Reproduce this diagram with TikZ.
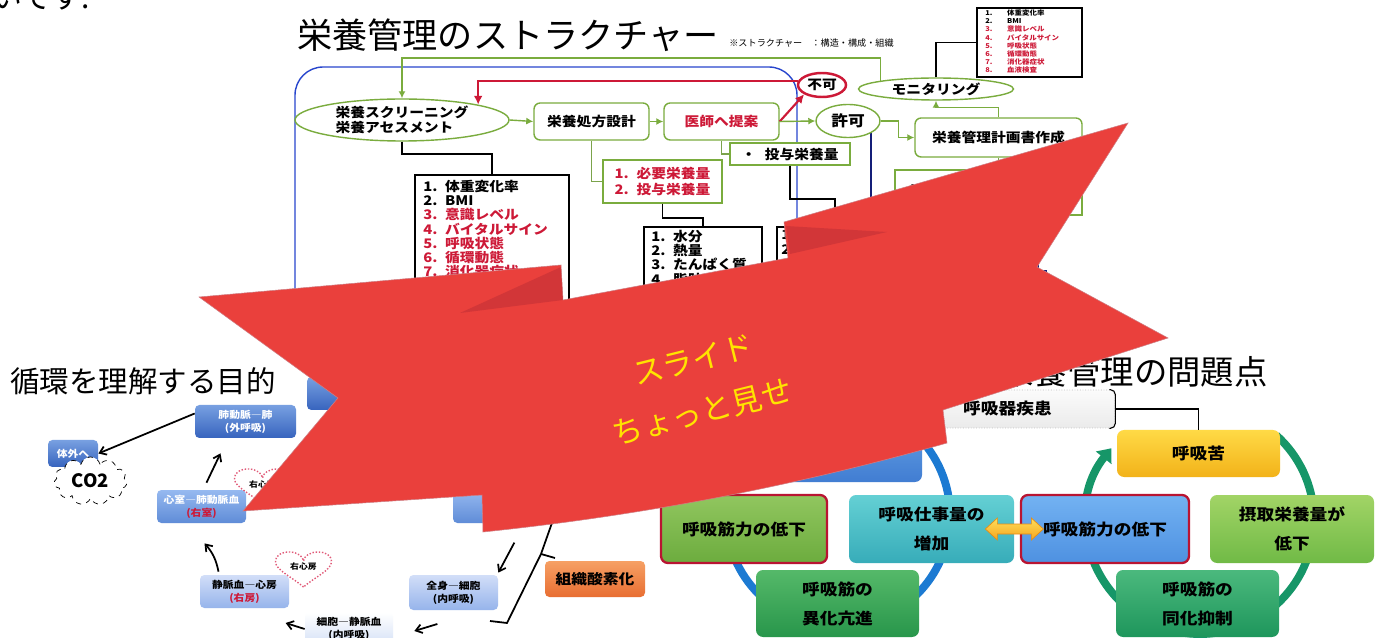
\documentclass[tikz,border=0pt]{standalone}
\usepackage{fontspec}
\setmainfont{Noto Sans CJK JP}
\newfontfamily\wide[FakeStretch=1.12]{Noto Sans CJK JP}
\usetikzlibrary{shapes.geometric,shapes.symbols,arrows.meta,calc}

\definecolor{grn}{RGB}{122,172,62}
\definecolor{txred}{RGB}{205,25,55}
\definecolor{frblue}{RGB}{40,70,205}
\definecolor{navy}{RGB}{20,30,120}
\definecolor{ribbon}{RGB}{234,64,60}
\definecolor{ribbondk}{RGB}{175,40,50}
\definecolor{ribbontx}{RGB}{255,228,0}
\definecolor{ringblue}{RGB}{28,122,210}
\definecolor{ringgreen}{RGB}{22,150,104}
\definecolor{boxred}{RGB}{185,20,50}

\newcommand\lrow[2]{\makebox[12.4pt][l]{#1}#2}

\tikzset{%
  sz/.style 2 args = {minimum width=#1*0.02cm, minimum height=#2*0.02cm},%
  flowbox/.style   = {shape=rectangle, rounded corners=3.5pt, draw=grn, line width=0.8pt,%
                      fill=white, align=center, inner sep=0pt,%
                      font=\wide\bfseries\fontsize{7.5pt}{8.5pt}\selectfont},%
  flowoval/.style  = {flowbox, shape=ellipse, sharp corners},%
  notebox/.style   = {flowbox, sharp corners},%
  listbox/.style   = {shape=rectangle, draw=black, line width=1pt, fill=white, inner sep=0pt},%
  listtext/.style  = {anchor=north west, inner sep=0pt, align=left,%
                      font=\wide\bfseries\fontsize{7.5pt}{8.05pt}\selectfont},%
  garr/.style      = {draw=grn, line width=0.8pt, -{Latex[length=4pt,width=4pt]}},%
  gline/.style     = {draw=grn!80!gray, line width=0.7pt},%
  rarr/.style      = {draw=txred, line width=1.2pt, -{Latex[length=5pt,width=5pt]}},%
  bline/.style     = {draw=black, line width=1.1pt},%
  cell/.style      = {shape=rectangle, rounded corners=2.5pt, inner sep=0pt, align=center,%
                      font=\wide\bfseries\fontsize{5.5pt}{7.4pt}\selectfont},%
  darkcell/.style  = {cell, top color={rgb,255:red,120;green,160;blue,225},%
                      bottom color={rgb,255:red,55;green,100;blue,190}, text=white},%
  midcell/.style   = {cell, top color={rgb,255:red,150;green,185;blue,240},%
                      bottom color={rgb,255:red,95;green,140;blue,215}, text=white},%
  lightcell/.style = {cell, top color={rgb,255:red,210;green,222;blue,248},%
                      bottom color={rgb,255:red,150;green,180;blue,235}},%
  palecell/.style  = {cell, top color=white, bottom color={rgb,255:red,212;green,224;blue,246}},%
  flow/.style      = {-{Straight Barb[length=3.5pt,width=5pt]}, line width=1pt},%
  heartline/.style = {draw={rgb,255:red,225;green,90;blue,120}, densely dotted, line width=0.8pt},%
  hearttext/.style = {inner sep=0pt, font=\wide\bfseries\fontsize{4.5pt}{5pt}\selectfont},%
  cycbox/.style    = {shape=rectangle, rounded corners=4pt, inner sep=0pt, align=center,%
                      font=\wide\bfseries\fontsize{9pt}{16.5pt}\selectfont},%
  heart/.pic       = {\draw[heartline, fill=white] (0,17) .. controls (-10,8) and (-28,0) .. (-28,-8)
                      .. controls (-28,-15) and (-22,-18) .. (-14,-18) .. controls (-6,-18) and (0,-13) .. (0,-9)
                      .. controls (0,-13) and (6,-18) .. (14,-18) .. controls (22,-18) and (28,-15) .. (28,-8)
                      .. controls (28,0) and (10,8) .. cycle;}%
}

\begin{document}
\begin{tikzpicture}[x=0.02cm, y=-0.02cm]
\useasboundingbox (0,0) rectangle (1383,638);
\fill[white] (0,0) rectangle (1383,638);

\node[anchor=base west, inner sep=0pt, font=\fontsize{17pt}{20pt}\selectfont] (lead) at (-8,9) {いです.};
\node[anchor=west, inner sep=0pt, font=\fontsize{20pt}{23pt}\selectfont] (title) at (297,35) {栄養管理のストラクチャー};
\node[anchor=west, inner sep=0pt, font=\fontsize{5.2pt}{6pt}\selectfont] (note) at (729,43) {※ストラクチャー\quad ：構造・構成・組織};

\draw[frblue, line width=0.8pt, rounded corners=16pt] (295,340) -- (295,67) -- (797,67) -- (797,340);
\draw[navy, line width=1.3pt] (871,125) -- (871,300);
\draw[navy, line width=1pt] (1038,250) -- (1038,271) -- (1047,271);

\node[flowoval, sz={214}{42}, align=left] (screen) at (402,120) {栄養スクリーニング\\栄養アセスメント};
\node[flowbox, sz={115}{37}] (sekkei) at (591.5,121.5) {栄養処方設計};
\node[flowbox, sz={115}{37}, text=txred] (teian) at (721.5,121.5) {医師へ提案};
\node[flowoval, sz={64}{33}, font=\wide\bfseries\fontsize{8.5pt}{10pt}\selectfont] (kyoka) at (848,121) {許可};
\node[flowoval, sz={48}{24}, draw=txred, line width=1.4pt] (fuka) at (822,85) {不可};
\node[flowoval, sz={155}{22}] (monitor) at (936,89) {モニタリング};
\node[flowbox, sz={167}{39}] (keikaku) at (998.5,137.5) {栄養管理計画書作成};
\node[notebox, sz={187}{45}] (hokyu) at (988.5,192.5) {};
\node[anchor=west, inner sep=0pt, font=\wide\bfseries\fontsize{7.5pt}{8.5pt}\selectfont] (hokyut) at (905,186) {・\hspace{6pt}栄養};
\node[notebox, sz={119}{43}, align=left, text=txred,
      font=\wide\bfseries\fontsize{7.5pt}{9.6pt}\selectfont] (need) at (662.5,181.5) {\lrow{1.}{必要栄養量}\\\lrow{2.}{投与栄養量}};
\node[notebox, sz={120}{22}] (tou) at (790,154) {・\hspace{5pt}投与栄養量};

\node[listbox, sz={154}{155}] (list1) at (492,252.5) {};
\node[listtext] (list1t) at (423,180) {\lrow{1.}{体重変化率}\\\lrow{2.}{BMI}\\
  \textcolor{txred}{\lrow{3.}{意識レベル}}\\\textcolor{txred}{\lrow{4.}{バイタルサイン}}\\
  \textcolor{txred}{\lrow{5.}{呼吸状態}}\\\textcolor{txred}{\lrow{6.}{循環動態}}\\
  \textcolor{txred}{\lrow{7.}{消化器症状}}};
\node[listbox, sz={118}{103}] (list2) at (703,278.5) {};
\node[listtext] (list2t) at (651,230) {\lrow{1.}{水分}\\\lrow{2.}{熱量}\\\lrow{3.}{たんぱく質}\\\lrow{4.}{脂肪}};
\node[listbox, sz={116}{103}] (list3) at (835,278.5) {};
\node[listtext] (list3t) at (781,230) {1.\\2.};
\node[listbox, line width=1.3pt, sz={105}{69}] (mlist) at (1029.5,42.5) {};
\node[listtext, font=\wide\bfseries\fontsize{3.8pt}{4.65pt}\selectfont] (mlistt) at (985,9.5)
  {\lrow{1.}{体重変化率}\\\lrow{2.}{BMI}\\
  \textcolor{txred}{\lrow{3.}{意識レベル}}\\\textcolor{txred}{\lrow{4.}{バイタルサイン}}\\
  \textcolor{txred}{\lrow{5.}{呼吸状態}}\\\textcolor{txred}{\lrow{6.}{循環動態}}\\
  \textcolor{txred}{\lrow{7.}{消化器症状}}\\\textcolor{txred}{\lrow{8.}{血液検査}}};

\coordinate (looptop) at (0,58);
\draw[garr] (monitor.north west) -- (monitor.north west |- looptop) -| (screen.north);
\draw[rarr] (fuka.170) -| (screen.north east);
\draw[rarr] (teian.east) -- (fuka.south west);
\draw[garr] (screen.east) -- (sekkei.west);
\draw[garr] (sekkei.east) -- (teian.west);
\draw[garr] (teian.east) -- (kyoka.west);
\draw[garr] (kyoka.east) -- ++(18,0) |- (keikaku.west);
\draw[garr] (keikaku.north) -- ++(0,-10) -| (monitor.south);
\draw[gline] (keikaku.south) -- (keikaku.south |- hokyu.north);
\draw[gline] (sekkei.south) |- (need.west);
\draw[gline] (teian.south) |- (tou.west);
\draw[bline] (screen.south) -- ++(0,12) -| (list1.north);
\draw[bline] (need.south) -- ++(0,14) -| (list2.north);
\draw[bline] (tou.south) -- ++(0,33) -| (list3.north);
\draw[bline] (monitor.north) |- (mlist.west);

\node[anchor=west, inner sep=0pt, font=\fontsize{16.8pt}{20pt}\selectfont] (lefttitle) at (10,381) {循環を理解する目的};
\node[darkcell, sz={93}{33}] (hbox2) at (353.5,393.5) {};
\node[darkcell, sz={101}{33}] (haidou) at (245.5,421.5) {肺動脈―肺\\(外呼吸)};
\node[darkcell, sz={50}{27}] (taigai) at (73,453.5) {体外へ};
\node[cloud, cloud puffs=11, aspect=1.5, draw, dashed, fill=white, sz={73}{48}, inner sep=0pt,
      font=\bfseries\fontsize{10.5pt}{12pt}\selectfont] (co2) at (90.5,481) {CO2};
\node[midcell, sz={89}{33}] (shinshitsu) at (201.5,506.5) {心室―肺動脈血\\\textcolor{txred}{(右室)}};
\node[midcell, sz={89}{33}] (hbox3) at (497.5,506.5) {};
\node[lightcell, sz={89}{33}] (joumyaku) at (244.5,591.5) {静脈血―心房\\\textcolor{txred}{(右房)}};
\node[lightcell, sz={89}{35}] (zenshin) at (453.5,592.5) {全身―細胞\\(内呼吸)};
\node[palecell, sz={88}{33}] (saibou) at (349,629) {細胞―静脈血\\(内呼吸)};
\node[cell, sz={100}{36}, top color={rgb,255:red,246;green,160;blue,100},
      bottom color={rgb,255:red,232;green,110;blue,50},
      font=\wide\bfseries\fontsize{8pt}{9pt}\selectfont] (sanso) at (595,579) {組織酸素化};
\pic at (262.5,487) {heart};
\node[hearttext] (shitsu) at (262.5,484) {右心室};
\pic at (303.5,570) {heart};
\node[hearttext] (bou) at (303.5,567) {右心房};

\draw[flow] ($(haidou.west)+(0,-8)$) -- (taigai.east);
\draw[flow] ($(shinshitsu.north)+(5,-7)$) -- ($(haidou.south)+(-25,15)$);
\draw[flow] ($(joumyaku.north)+(-26,-3)$) to[bend right=15] ($(shinshitsu.south)+(3,20)$);
\draw[flow] (saibou.west) -- ++(-19,-6);
\draw[flow] ($(saibou.east)+(44,-5)$) -- ($(saibou.east)+(21,2)$);
\draw[flow] ($(zenshin.north east)+(16,-32)$) -- ($(zenshin.north east)+(0,-2)$);
\draw[line width=1pt] (553,520) -- (541,554) -- (555,558) (541,554) -- (507,623) -- (490,621);

\node[anchor=east, inner sep=0pt, font=\fontsize{19pt}{22pt}\selectfont] (righttitle) at (1268,372) {栄養管理の問題点};
\draw[ringblue, line width=4.5pt] (838,515) circle[radius=112];
\draw[ringgreen, line width=4.5pt, -{Triangle[length=7pt,width=11pt]}]
  (1200,520) ++(-48:114) arc[start angle=-48, end angle=219, radius=114];

\node[cycbox, sz={167}{52}, top color={rgb,255:red,95;green,155;blue,225},
      bottom color={rgb,255:red,65;green,125;blue,210}] (topbox) at (838.5,456) {};
\node[cycbox, sz={166}{68}, top color={rgb,255:red,145;green,198;blue,95},
      bottom color={rgb,255:red,108;green,172;blue,62}, draw=boxred, line width=1.3pt] (teika1) at (744,529) {呼吸筋力の低下};
\node[cycbox, sz={165}{68}, top color={rgb,255:red,100;green,208;blue,212},
      bottom color={rgb,255:red,55;green,172;blue,185}] (shigoto) at (931.5,529) {呼吸仕事量の\\増加};
\node[cycbox, sz={163}{67}, top color={rgb,255:red,85;green,185;blue,105},
      bottom color={rgb,255:red,40;green,150;blue,75}] (ika) at (837.5,603.5) {呼吸筋の\\異化亢進};
\node[cycbox, sz={168}{68}, top color={rgb,255:red,115;green,178;blue,242},
      bottom color={rgb,255:red,78;green,145;blue,225}, draw=boxred, line width=1.3pt] (teika2) at (1105,529) {呼吸筋力の低下};
\node[cycbox, sz={164}{68}, top color={rgb,255:red,162;green,212;blue,102},
      bottom color={rgb,255:red,112;green,186;blue,70}] (sesshu) at (1292,529) {摂取栄養量が\\低下};
\node[cycbox, sz={163}{67}, top color={rgb,255:red,75;green,185;blue,125},
      bottom color={rgb,255:red,30;green,150;blue,92}] (douka) at (1197.5,603.5) {呼吸筋の\\同化抑制};
\node[cycbox, sz={163}{47}, top color={rgb,255:red,255;green,218;blue,70},
      bottom color={rgb,255:red,242;green,178;blue,25}] (kuru) at (1198.5,453.5) {呼吸苦};
\node[shape=rectangle, rounded corners=3pt, top color=gray!3, bottom color=gray!16, draw=gray!50,
      densely dotted, line width=0.5pt, sz={215}{38}, inner sep=0pt,
      font=\wide\bfseries\fontsize{9pt}{10pt}\selectfont] (shikkan) at (1007.5,409) {呼吸器疾患};
\draw[line width=0.6pt, rounded corners=3pt] ($(shikkan.north east)+(-6,0)$) -- (shikkan.north east)
  -- (shikkan.south east) -- ($(shikkan.south east)+(-6,0)$);
\draw[bline, line width=0.8pt] (shikkan.east) -| (kuru.north);
\coordinate (dbl) at ($(shigoto.east)+(-29,0)$);
\draw[top color={rgb,255:red,255;green,222;blue,90}, bottom color={rgb,255:red,245;green,165;blue,30},
      draw={rgb,255:red,230;green,140;blue,20}, line width=0.4pt]
  (dbl) -- ++(12,-11) -- ++(0,6) -- ++(34,0) -- ++(0,-6) -- ++(12,11) -- ++(-12,11) -- ++(0,-6)
  -- ++(-34,0) -- ++(0,6) -- cycle;

\fill[ribbon, draw=ribbondk!60, line width=0.3pt] (199,297) -- (561,265) -- (563,300) -- (788,258)
  -- (784,222) -- (1128,123) -- (1037,267) -- (1168,338) -- (943,410) -- (947,443)
  .. controls (792,487) and (638,516) .. (483,532) -- (482,495) -- (243,511) -- (338,398) -- cycle;
\fill[ribbondk, opacity=0.4] (561,267) -- (563,300) -- (460,313) -- cycle;
\fill[ribbondk, opacity=0.4] (786,226) -- (887,232) -- (790,254) -- cycle;
\node[rotate=14, inner sep=0pt, text=ribbontx, font=\fontsize{17.5pt}{20pt}\selectfont] (slide) at (693,360) {スライド};
\node[rotate=14, inner sep=0pt, text=ribbontx, font=\fontsize{17.5pt}{20pt}\selectfont] (peek) at (702,412) {ちょっと見せ};
\end{tikzpicture}
\end{document}
